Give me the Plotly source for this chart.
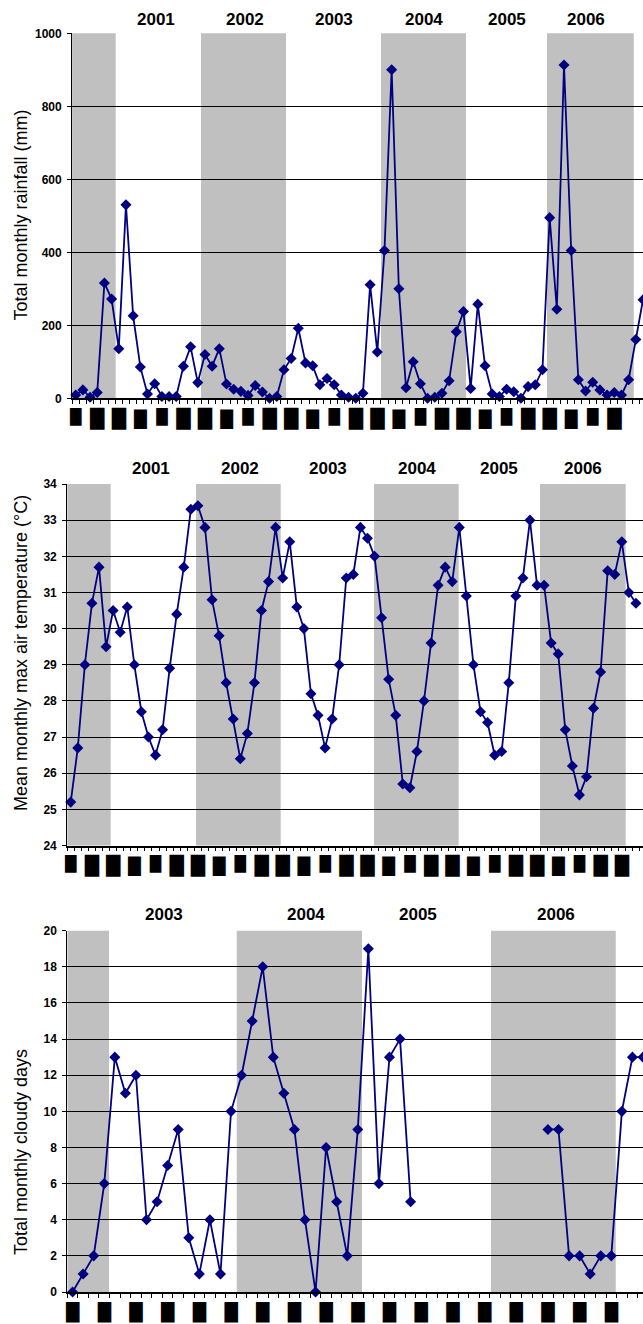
import plotly.graph_objects as go

W, H = 643, 1324
NAVY = "#000080"
GRAY = "#C0C0C0"
BLOCK = "\u2588"

# ---------------- data ----------------
# Panel 1: total monthly rainfall (mm), monthly from Jul 2000
rain_month = list(range(80))
rainfall = [9, 23, 3, 16, 316, 272, 136, 530, 226, 86,
            12, 40, 5, 5, 5, 88, 141, 43, 120, 88,
            136, 39, 25, 19, 8, 35, 17, 0, 5, 78,
            109, 192, 97, 89, 37, 54, 37, 9, 3, 0,
            14, 311, 127, 405, 900, 300, 29, 100, 40, 0,
            3, 14, 48, 182, 238, 27, 258, 89, 12, 5,
            25, 18, 0, 32, 37, 78, 495, 244, 913, 405,
            51, 20, 44, 23, 9, 16, 9, 51, 161, 270]

# Panel 2: mean monthly max air temperature (°C), monthly from Jul 2000
temp_month = list(range(81))
temperature = [25.2, 26.7, 29.0, 30.7, 31.7, 29.5, 30.5, 29.9, 30.6, 29.0,
               27.7, 27.0, 26.5, 27.2, 28.9, 30.4, 31.7, 33.3, 33.4, 32.8,
               30.8, 29.8, 28.5, 27.5, 26.4, 27.1, 28.5, 30.5, 31.3, 32.8,
               31.4, 32.4, 30.6, 30.0, 28.2, 27.6, 26.7, 27.5, 29.0, 31.4,
               31.5, 32.8, 32.5, 32.0, 30.3, 28.6, 27.6, 25.7, 25.6, 26.6,
               28.0, 29.6, 31.2, 31.7, 31.3, 32.8, 30.9, 29.0, 27.7, 27.4,
               26.5, 26.6, 28.5, 30.9, 31.4, 33.0, 31.2, 31.2, 29.6, 29.3,
               27.2, 26.2, 25.4, 25.9, 27.8, 28.8, 31.6, 31.5, 32.4, 31.0,
               30.7]

# Panel 3: total monthly cloudy days, monthly from Sep 2002 (gap = no data)
cloud_month = list(range(55))
cloudy_days = ([0, 1, 2, 6, 13, 11, 12, 4, 5, 7,
                9, 3, 1, 4, 1, 10, 12, 15, 18, 13,
                11, 9, 4, 0, 8, 5, 2, 9, 19, 6,
                13, 14, 5]
               + [None] * 12
               + [9, 9, 2, 2, 1, 2, 2, 10, 13, 13])

# shaded (alternate-year) bands, in month-index units
rain_band_start = [-0.5, 17.45, 42.52, 65.63]
rain_band_end = [5.57, 29.29, 54.35, 77.71]
temp_band_start = [-0.5, 17.73, 42.93, 66.42]
temp_band_end = [5.66, 29.72, 54.91, 78.55]
cloud_band_start = [-0.5, 15.54, 39.61]
cloud_band_end = [3.45, 27.4, 51.42]

# year labels above each panel (month-index position)
rain_years = ["2001", "2002", "2003", "2004", "2005", "2006"]
rain_year_pos = [11.18, 23.58, 35.97, 48.57, 60.0, 71.02]
temp_years = ["2001", "2002", "2003", "2004", "2005", "2006"]
temp_year_pos = [11.43, 23.89, 36.41, 49.01, 60.62, 72.51]
cloud_years = ["2003", "2004", "2005", "2006"]
cloud_year_pos = [8.63, 22.05, 32.74, 45.75]

titles = ["Total monthly rainfall (mm)",
          "Mean monthly max air temperature (\u00b0C)",
          "Total monthly cloudy days"]

# ---------------- layout geometry (pixels) ----------------
panels = [
    dict(x=rain_month, y=rainfall, left=72.1, top=33.3, bottom=398.3,
         xr=[-0.5, 79.0], yr=[0, 1000], dy=200, bs=rain_band_start, be=rain_band_end,
         years=rain_years, ypos=rain_year_pos, year_y=19.5, title_y=215.5,
         nlab=79, classes=True, ytitle=titles[0]),
    dict(x=temp_month, y=temperature, left=67.2, top=484.0, bottom=845.5,
         xr=[-0.5, 81.0], yr=[24, 34], dy=1, bs=temp_band_start, be=temp_band_end,
         years=temp_years, ypos=temp_year_pos, year_y=468.5, title_y=653,
         nlab=79, classes=True, ytitle=titles[1]),
    dict(x=cloud_month, y=cloudy_days, left=67.3, top=930.7, bottom=1292.0,
         xr=[-0.5, 54.0], yr=[0, 20], dy=2, bs=cloud_band_start, be=cloud_band_end,
         years=cloud_years, ypos=cloud_year_pos, year_y=914, title_y=1152,
         nlab=55, classes=False, ytitle=titles[2]),
]

TALL, MED, SHORT, BIG = 18.5, 16.5, 14.8, 17.3

fig = go.Figure()
layout = dict(template="none", width=W, height=H,
              margin=dict(l=0, r=0, t=0, b=0, autoexpand=False),
              paper_bgcolor="white", plot_bgcolor="white", showlegend=False,
              font=dict(family="Liberation Sans, Arial, sans-serif", color="black"))
shapes, annotations = [], []
extra_axis = 4

for k, p in enumerate(panels, start=1):
    xs = "" if k == 1 else str(k)
    xname, yname = "x" + xs, "y" + xs
    fig.add_trace(go.Scatter(
        x=p["x"], y=p["y"], mode="lines+markers", xaxis=xname, yaxis=yname,
        line=dict(color=NAVY, width=1.8),
        marker=dict(symbol="diamond", size=8.5, color=NAVY),
        cliponaxis=False, connectgaps=False, hoverinfo="skip"))

    xdom = [p["left"] / W, 1.0]
    ydom = [1 - p["bottom"] / H, 1 - p["top"] / H]
    labs = list(range(0, p["nlab"], 3))
    if p["classes"]:
        tall = [v for v in labs if (v // 3) % 4 in (1, 2)]
        short = [v for v in labs if (v // 3) % 4 == 0]
        med = [v for v in labs if (v // 3) % 4 == 3]
        main_size = TALL
    else:
        tall, short, med = [v for v in labs if v < p["xr"][1]], [], []
        main_size = BIG
    bounds = [m - 0.5 for m in range(len(p["x"]) + 1) if m - 0.5 <= p["xr"][1]]

    layout["xaxis" + xs] = dict(
        domain=xdom, range=p["xr"], anchor=yname, tickmode="array",
        tickvals=tall, ticktext=[BLOCK] * len(tall), ticks="",
        showline=True, linecolor="black", linewidth=1.5, showgrid=False,
        zeroline=False, tickangle=0, automargin=False,
        tickfont=dict(family="DejaVu Sans", size=main_size, color="black"),
        ticklabelstandoff=3,
        minor=dict(tickmode="array", tickvals=bounds, ticks="outside",
                   ticklen=4, tickwidth=1, tickcolor="black", showgrid=False))
    for vals, size, so in ((short, SHORT, 8), (med, MED, 9)):
        if not vals:
            continue
        ov = "x%d" % extra_axis
        layout["xaxis%d" % extra_axis] = dict(
            overlaying=xname, anchor=yname, range=p["xr"], tickmode="array",
            tickvals=vals, ticktext=[BLOCK] * len(vals), ticks="",
            showline=False, showgrid=False, zeroline=False, tickangle=0,
            automargin=False,
            tickfont=dict(family="DejaVu Sans", size=size, color="black"),
            ticklabelstandoff=so)
        # carrier trace so the overlaid label axis is rendered (draws nothing)
        fig.add_trace(go.Scatter(x=vals, y=[p["yr"][0]] * len(vals), mode="none",
                                 xaxis=ov, yaxis=yname, hoverinfo="skip"))
        extra_axis += 1

    layout["yaxis" + xs] = dict(
        domain=ydom, range=p["yr"], anchor=xname, tick0=p["yr"][0], dtick=p["dy"],
        showgrid=True, gridcolor="black", gridwidth=1, showline=True,
        linecolor="black", linewidth=1, ticks="outside", ticklen=4,
        tickcolor="black", zeroline=False, ticklabelstandoff=3, automargin=False,
        tickfont=dict(family="Liberation Sans", size=12, weight="bold", color="black"))

    for x0, x1 in zip(p["bs"], p["be"]):
        shapes.append(dict(type="rect", xref=xname, yref=yname + " domain",
                           x0=x0, x1=x1, y0=0, y1=1, fillcolor=GRAY,
                           line=dict(width=0), layer="below"))
    for txt, xp in zip(p["years"], p["ypos"]):
        annotations.append(dict(text=txt, x=xp, xref=xname, y=1 - p["year_y"] / H,
                                yref="paper", xanchor="center", yanchor="middle",
                                showarrow=False,
                                font=dict(family="Liberation Sans", size=17,
                                          weight="bold", color="black")))
    annotations.append(dict(text=p["ytitle"], x=21 / W, xref="paper",
                            y=1 - p["title_y"] / H, yref="paper", textangle=-90,
                            xanchor="center", yanchor="middle", showarrow=False,
                            font=dict(family="Liberation Sans", size=18, color="black")))

layout["shapes"] = shapes
layout["annotations"] = annotations
fig.update_layout(**layout)
fig.write_html("out.html", config={"displayModeBar": False},
               post_script="document.body.style.margin='0px';document.body.style.overflow='hidden';")
